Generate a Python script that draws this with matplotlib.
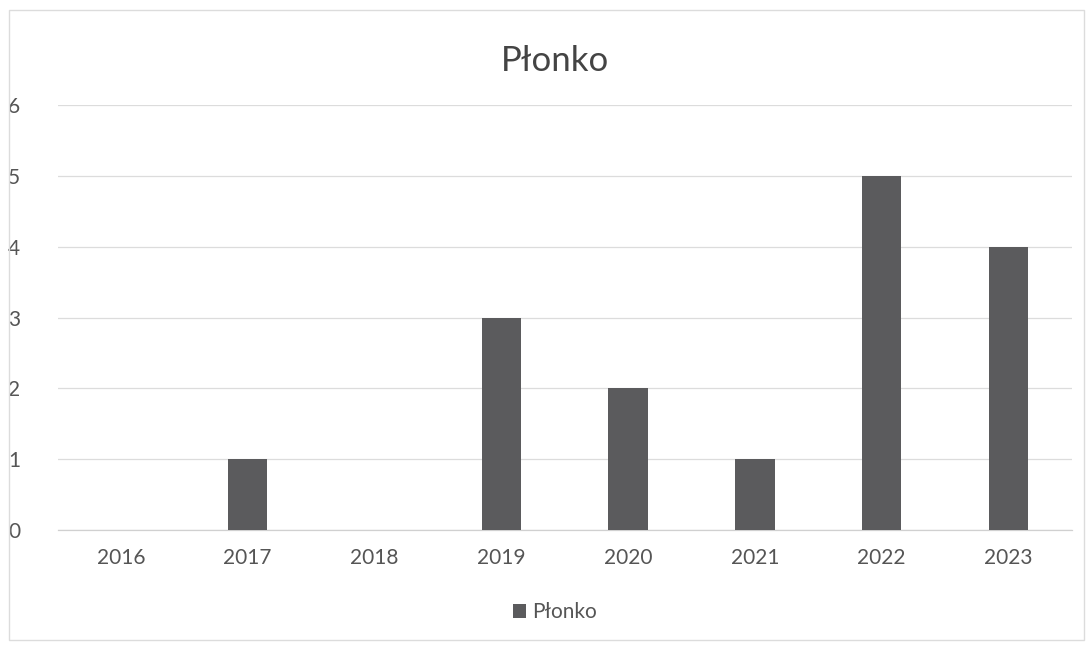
import matplotlib.pyplot as plt
from matplotlib.patches import Rectangle

# dane: liczba przypadków w kolejnych latach
lata = ["2016", "2017", "2018", "2019", "2020", "2021", "2022", "2023"]
plonko = [0, 1, 0, 3, 2, 1, 5, 4]
y_ticks = [0, 1, 2, 3, 4, 5, 6]

plt.rcParams["font.family"] = ["Lato", "DejaVu Sans"]

fig = plt.figure(figsize=(10.86, 6.46), dpi=100)
ax = fig.add_axes([0.053, 0.180, 0.934, 0.657])

x = range(len(lata))
bars = ax.bar(x, plonko, width=0.31, color="#5b5b5d", label="Płonko", zorder=3)

ax.set_xlim(-0.5, len(lata) - 0.5)
ax.set_ylim(0, 6)
ax.set_yticks(y_ticks)
ax.set_xticks(list(x))
ax.set_xticklabels(lata)

ax.grid(axis="y", color="#dcdcdc", linewidth=0.9, zorder=0)
for s in ["top", "right", "left"]:
    ax.spines[s].set_visible(False)
ax.spines["bottom"].set_color("#d0d0d0")
ax.spines["bottom"].set_linewidth(0.9)
ax.tick_params(axis="both", length=0, labelsize=15, colors="#555555")
ax.tick_params(axis="y", pad=27)
ax.tick_params(axis="x", pad=13)

fig.text(0.511, 0.905, "Płonko", ha="center", va="center",
         fontsize=25, color="#444444")

leg = fig.legend(handles=[bars], labels=["Płonko"], loc="center",
                 bbox_to_anchor=(0.511, 0.052), frameon=False,
                 fontsize=15, handlelength=0.6, handleheight=0.6,
                 handletextpad=0.3)
for t in leg.get_texts():
    t.set_color("#555555")

# ramka wykresu
fig.patches.append(Rectangle((0.008, 0.01), 0.99, 0.975, transform=fig.transFigure,
                             fill=False, edgecolor="#dcdcdc", linewidth=1.0))

fig.savefig("out.png", dpi=100)
